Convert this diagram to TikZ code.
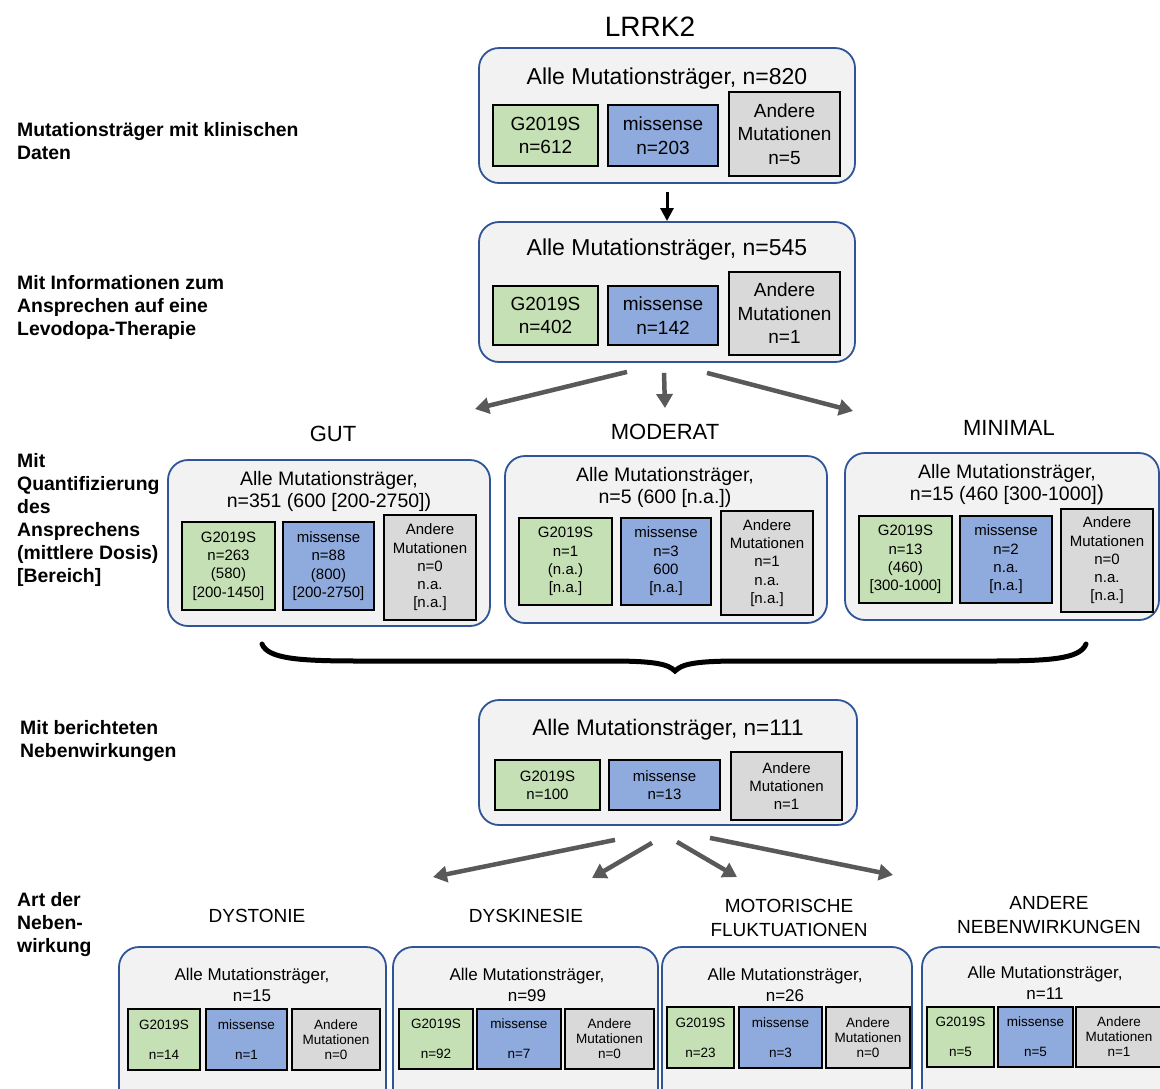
\documentclass[tikz,border=0pt]{standalone}
\usepackage{fontspec}
\setmainfont{Liberation Sans}
\usetikzlibrary{arrows.meta}
\definecolor{frameblue}{HTML}{2F5597}
\definecolor{panelbg}{HTML}{F2F2F2}
\definecolor{gfill}{HTML}{C5E0B4}
\definecolor{mfill}{HTML}{8FAADC}
\definecolor{afill}{HTML}{D9D9D9}
\definecolor{arrowgray}{HTML}{595959}
\tikzset{
  span/.style n args={4}{at={({(#1+#3)/2},{(#2+#4)/2})}, anchor=center,
    minimum width={(#3)-(#1)}, minimum height={(#4)-(#2)}},
  panel/.style={draw=frameblue, fill=panelbg, line width=1.8pt, rounded corners=20pt, inner sep=0pt},
  cell/.style={draw=black, line width=1.3pt, inner sep=0pt, align=center, text=black},
  gcell/.style={cell, fill=gfill},
  mcell/.style={cell, fill=mfill},
  acell/.style={cell, fill=afill},
  fbig/.style={font=\fontsize{19}{23.5}\selectfont},
  fmid/.style={font=\fontsize{15}{18.3}\selectfont},
  fsmall/.style={font=\fontsize{13.5}{15}\selectfont},
  sidelabel/.style={align=left, anchor=west, inner sep=0pt, font=\fontsize{19.4}{23}\selectfont\bfseries},
  headline/.style={align=center, inner sep=0pt},
  grayarrow/.style={draw=arrowgray, line width=4.5pt, -{Triangle[length=14pt,width=16pt]}},
  blackarrow/.style={draw=black, line width=3pt, -{Triangle[length=13pt,width=13pt]}}
}
\begin{document}
\begin{tikzpicture}[x=1pt,y=-1pt]
\clip (0,0) rectangle (1160,1088);
\fill[white] (0,0) rectangle (1160,1088);

% ---------- row labels ----------
\node[sidelabel] (l1) at (17,141) {Mutationsträger mit klinischen\\Daten};
\node[sidelabel] (l2) at (17,307) {Mit Informationen zum\\Ansprechen auf eine\\Levodopa-Therapie};
\node[sidelabel] (l3) at (17,520) {Mit\\Quantifizierung\\des\\Ansprechens\\(mittlere Dosis)\\{[}Bereich]};
\node[sidelabel] (l4) at (20,741) {Mit berichteten\\Nebenwirkungen};
\node[sidelabel] (l5) at (17,925) {Art der\\Neben-\\wirkung};

% ---------- gene ----------
\node[headline, font=\fontsize{28}{30}\selectfont] (gene) at (650,27) {LRRK2};

% ---------- all carriers with clinical data ----------
\node[panel, span={479}{48}{855}{183}] (b1) {};
\node[headline, font=\fontsize{23}{27}\selectfont] (b1t) at (667,79) {Alle Mutationsträger, n=820};
\node[gcell, fbig, span={493}{105}{598}{166}] (b1g) {G2019S\\n=612};
\node[mcell, fbig, span={608}{105}{718}{166}] (b1m) {missense\\n=203};
\node[acell, fbig, span={729}{92}{840}{176}] (b1a) {Andere\\Mutationen\\n=5};

% ---------- levodopa response known ----------
\node[panel, span={479}{222}{855}{362}] (b2) {};
\node[headline, font=\fontsize{23}{27}\selectfont] (b2t) at (667,250) {Alle Mutationsträger, n=545};
\node[gcell, fbig, span={493}{286}{598}{345}] (b2g) {G2019S\\n=402};
\node[mcell, fbig, span={608}{286}{718}{345}] (b2m) {missense\\n=142};
\node[acell, fbig, span={729}{272}{840}{355}] (b2a) {Andere\\Mutationen\\n=1};

\coordinate (b1end) at (667,221);
\draw[blackarrow] ([yshift=-8pt]b1.south) -- (b1end);

% ---------- response categories ----------
\node[headline, font=\fontsize{22}{26}\selectfont] (hgut) at (333,434) {GUT};
\node[headline, font=\fontsize{22}{26}\selectfont] (hmod) at (665,432) {MODERAT};
\node[headline, font=\fontsize{22}{26}\selectfont] (hmin) at (1009,428) {MINIMAL};

\coordinate (gutend) at (475,409);
\coordinate (modend) at (665,408);
\coordinate (minend) at (853,411);
\draw[grayarrow] ([xshift=-40pt,yshift=-9pt]b2.south) -- (gutend);
\draw[grayarrow] ([xshift=-3pt,yshift=-10pt]b2.south) -- (modend);
\draw[grayarrow] ([xshift=40pt,yshift=-10pt]b2.south) -- (minend);

\node[panel, span={168}{460}{490}{626}] (gut) {};
\node[headline, font=\fontsize{19.5}{22}\selectfont] (gutt) at (329,491) {Alle Mutationsträger,\\n=351 (600 [200-2750])};
\node[gcell, fmid, span={182}{522}{275}{610}] (gutg) {G2019S\\n=263\\(580)\\{[}200-1450]};
\node[mcell, fmid, span={283}{522}{374}{610}] (gutm) {missense\\n=88\\(800)\\{[}200-2750]};
\node[acell, fmid, span={384}{515}{476}{620}] (guta) {Andere\\Mutationen\\n=0\\n.a.\\{[}n.a.]};

\node[panel, span={505}{456}{827}{623}] (mod) {};
\node[headline, font=\fontsize{19.5}{22}\selectfont] (modt) at (665,487) {Alle Mutationsträger,\\n=5 (600 [n.a.])};
\node[gcell, fmid, span={519}{518}{612}{605}] (modg) {G2019S\\n=1\\(n.a.)\\{[}n.a.]};
\node[mcell, fmid, span={621}{518}{711}{605}] (modm) {missense\\n=3\\600\\{[}n.a.]};
\node[acell, fmid, span={721}{511}{813}{615}] (moda) {Andere\\Mutationen\\n=1\\n.a.\\{[}n.a.]};

\node[panel, span={845}{453}{1159}{620}] (min) {};
\node[headline, font=\fontsize{19.5}{22}\selectfont] (mint) at (1007,485) {Alle Mutationsträger,\\n=15 (460 [300-1000]{\fontsize{21.5}{22}\selectfont)}};
\node[gcell, fmid, span={859}{516}{952}{603}] (ming) {G2019S\\n=13\\(460)\\{[}300-1000]};
\node[mcell, fmid, span={960}{516}{1052}{603}] (minm) {missense\\n=2\\n.a.\\{[}n.a.]};
\node[acell, fmid, span={1061}{509}{1153}{612}] (mina) {Andere\\Mutationen\\n=0\\n.a.\\{[}n.a.]};

% ---------- curly brace joining the three groups ----------
\draw[line width=5pt, line cap=round]
  (262,644) .. controls (268,659) and (300,661) .. (360,661) -- (610,661)
  .. controls (655,661) and (668,664) .. (675,671)
  .. controls (682,664) and (695,661) .. (740,661) -- (990,661)
  .. controls (1050,661) and (1080,659) .. (1086,644);

% ---------- reported side effects ----------
\node[panel, span={479}{700}{857}{825}] (ae) {};
\node[headline, font=\fontsize{22.5}{26}\selectfont] (aet) at (668,730) {Alle Mutationsträger, n=111};
\node[gcell, fmid, span={495}{760}{600}{810}] (aeg) {G2019S\\n=100};
\node[mcell, fmid, span={609}{760}{720}{810}] (aem) {missense\\n=13};
\node[acell, fmid, span={731}{752}{842}{820}] (aea) {Andere\\Mutationen\\n=1};

\coordinate (dyend) at (433,877);
\coordinate (dkend) at (592,878);
\coordinate (mfend) at (737,877);
\coordinate (anend) at (893,875);
\draw[grayarrow] ([xshift=-53pt,yshift=-14pt]ae.south) -- (dyend);
\draw[grayarrow] ([xshift=-16pt,yshift=-17pt]ae.south) -- (dkend);
\draw[grayarrow] ([xshift=9pt,yshift=-16pt]ae.south) -- (mfend);
\draw[grayarrow] ([xshift=42pt,yshift=-12pt]ae.south) -- (anend);

% ---------- side effect types ----------
\node[headline, font=\fontsize{19}{24}\selectfont] (hdy) at (257,916) {DYSTONIE};
\node[headline, font=\fontsize{19}{24}\selectfont] (hdk) at (526,916) {DYSKINESIE};
\node[headline, font=\fontsize{19}{24}\selectfont] (hmf) at (789,918) {MOTORISCHE\\FLUKTUATIONEN};
\node[headline, font=\fontsize{19}{24}\selectfont] (han) at (1049,915) {ANDERE\\NEBENWIRKUNGEN};

\node[panel, span={119}{947}{386}{1110}] (dy) {};
\node[headline, font=\fontsize{17}{21}\selectfont] (dyt) at (252,985) {Alle Mutationsträger,\\n=15};
\node[gcell, fsmall, span={128}{1009}{200}{1070}] (dyg) {G2019S\\\mbox{}\\n=14};
\node[mcell, fsmall, span={206}{1009}{287}{1070}] (dym) {missense\\\mbox{}\\n=1};
\node[acell, fsmall, span={292}{1009}{380}{1070}] (dya) {Andere\\Mutationen\\n=0};

\node[panel, span={393}{947}{658}{1110}] (dk) {};
\node[headline, font=\fontsize{17}{21}\selectfont] (dkt) at (527,985) {Alle Mutationsträger,\\n=99};
\node[gcell, fsmall, span={399}{1009}{473}{1069}] (dkg) {G2019S\\\mbox{}\\n=92};
\node[mcell, fsmall, span={477}{1009}{561}{1069}] (dkm) {missense\\\mbox{}\\n=7};
\node[acell, fsmall, span={565}{1009}{654}{1069}] (dka) {Andere\\Mutationen\\n=0};

\node[panel, span={662}{947}{912}{1110}] (mf) {};
\node[headline, font=\fontsize{17}{21}\selectfont] (mft) at (785,985) {Alle Mutationsträger,\\n=26};
\node[gcell, fsmall, span={667}{1007}{734}{1068}] (mfg) {G2019S\\\mbox{}\\n=23};
\node[mcell, fsmall, span={739}{1007}{822}{1068}] (mfm) {missense\\\mbox{}\\n=3};
\node[acell, fsmall, span={826}{1007}{910}{1068}] (mfa) {Andere\\Mutationen\\n=0};

\node[panel, span={922}{947}{1175}{1110}] (an) {};
\node[headline, font=\fontsize{17}{21}\selectfont] (ant) at (1045,983) {Alle Mutationsträger,\\n=11};
\node[gcell, fsmall, span={927}{1007}{994}{1067}] (ang) {G2019S\\\mbox{}\\n=5};
\node[mcell, fsmall, span={998}{1007}{1073}{1067}] (anm) {missense\\\mbox{}\\n=5};
\node[acell, fsmall, span={1076}{1007}{1162}{1067}] (ana) {Andere\\Mutationen\\n=1};
\end{tikzpicture}
\end{document}
